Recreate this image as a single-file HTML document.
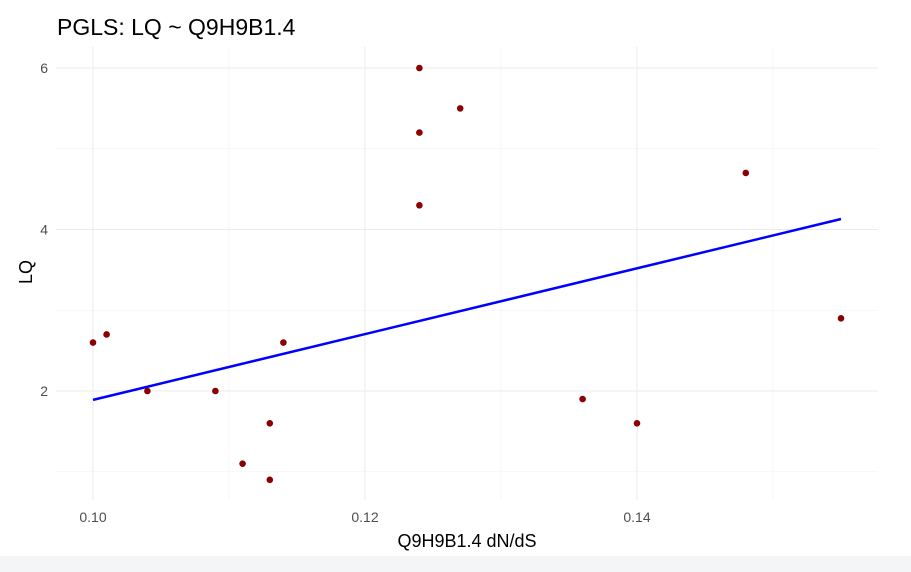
<!DOCTYPE html>
<html><head><meta charset="utf-8"><style>
body{margin:0;background:#fff;font-family:"Liberation Sans",sans-serif}
svg{display:block}
</style></head><body>
<svg id="chart" width="911" height="572">
<rect x="0" y="556" width="911" height="16" fill="#f4f5f7"/>
<text x="57" y="35" font-size="23" fill="#000">PGLS: LQ ~ Q9H9B1.4</text>
<g id="grid"></g><g id="ticks"></g><g id="marks"></g>
<text x="467" y="547" font-size="18" fill="#000" text-anchor="middle">Q9H9B1.4 dN/dS</text>
<text transform="translate(32,272) rotate(-90)" font-size="18" fill="#000" text-anchor="middle">LQ</text>
</svg>
<script>
const xVals=[0.100,0.101,0.104,0.109,0.111,0.113,0.113,0.114,0.124,0.124,0.124,0.127,0.136,0.140,0.148,0.155];
const yVals=[2.6,2.7,2.0,2.0,1.1,1.6,0.9,2.6,6.0,5.2,4.3,5.5,1.9,1.6,4.7,2.9];
const xTicks=[0.10,0.12,0.14];
const xMinor=[0.11,0.13,0.15];
const yTicks=[2,4,6];
const yMinor=[1,3,5];
const fitX=[0.100,0.155];
const fitY=[1.89,4.13];
const NS="http://www.w3.org/2000/svg";
const L=56,R=878,T=47,B=500;
const sx=v=>93+(v-0.10)*13600;
const sy=v=>68+(6-v)*80.75;
function mk(p,t,a){const e=document.createElementNS(NS,t);for(const k in a)e.setAttribute(k,a[k]);document.getElementById(p).appendChild(e);return e;}
xMinor.forEach(v=>{const e=mk('grid','line',{x1:sx(v),x2:sx(v),y1:T,y2:B,stroke:'#f2f2f2','stroke-width':0.6});

});
yMinor.forEach(v=>{const e=mk('grid','line',{x1:L,x2:R,y1:sy(v),y2:sy(v),stroke:'#f2f2f2','stroke-width':0.6});

});
xTicks.forEach(v=>{const e=mk('grid','line',{x1:sx(v),x2:sx(v),y1:T,y2:B,stroke:'#ebebeb','stroke-width':1.1});


const t=mk('ticks','text',{x:sx(v),y:B+22,'font-size':14,fill:'#4d4d4d','text-anchor':'middle'});t.textContent=v.toFixed(2);

});
yTicks.forEach(v=>{const e=mk('grid','line',{x1:L,x2:R,y1:sy(v),y2:sy(v),stroke:'#ebebeb','stroke-width':1.1});


const t=mk('ticks','text',{x:48,y:sy(v)+5,'font-size':14,fill:'#4d4d4d','text-anchor':'end'});t.textContent=v;

});
const ln=mk('marks','line',{x1:sx(fitX[0]),y1:sy(fitY[0]),x2:sx(fitX[1]),y2:sy(fitY[1]),stroke:'#0000ff','stroke-width':2.5});


xVals.forEach((v,i)=>{const c=mk('marks','circle',{cx:sx(v),cy:sy(yVals[i]),r:3.3,fill:'#8b0000'});

});
</script>
</body></html>
